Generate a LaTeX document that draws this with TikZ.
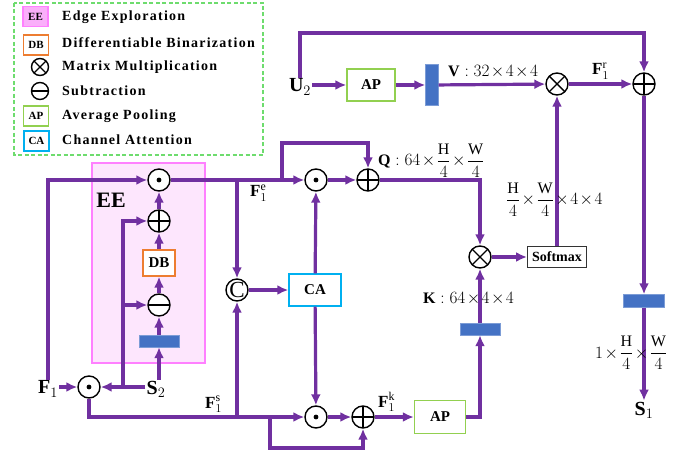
\documentclass[tikz,border=0pt]{standalone}
\usepackage{amsmath}
\usepackage{fontspec}
\setmainfont{Liberation Serif}
\newfontfamily\legfont[LetterSpace=9]{Liberation Serif}
\usetikzlibrary{arrows.meta, positioning, calc}
\definecolor{flowpurple}{RGB}{112,48,160}
\definecolor{barblue}{RGB}{68,114,196}
\definecolor{apgreen}{RGB}{146,208,80}
\definecolor{cablue}{RGB}{0,176,240}
\definecolor{dborange}{RGB}{237,125,49}
\definecolor{eefill}{RGB}{253,230,253}
\definecolor{eeline}{RGB}{255,128,255}
\definecolor{legfill}{RGB}{250,175,250}
\definecolor{leggreen}{RGB}{110,220,110}
\newcommand{\fsz}[1]{\fontsize{#1}{#1}\selectfont}

\begin{document}
\begin{tikzpicture}[x=1pt, y=-1pt,
    flow/.style={draw=flowpurple, line width=3.2pt, -{Latex[length=11pt,width=10pt]}},
    opnode/.style={circle, draw=black, line width=1.4pt, fill=white,
                   minimum size=22pt, inner sep=0pt},
    plusop/.style={opnode, path picture={
        \draw[black, line width=1.4pt] (path picture bounding box.north) -- (path picture bounding box.south)
             (path picture bounding box.west) -- (path picture bounding box.east);}},
    multop/.style={opnode, path picture={
        \draw[black, line width=1.4pt] (path picture bounding box.north west) -- (path picture bounding box.south east)
             (path picture bounding box.north east) -- (path picture bounding box.south west);}},
    minusop/.style={opnode, path picture={
        \draw[black, line width=1.4pt] (path picture bounding box.west) -- (path picture bounding box.east);}},
    dotop/.style={opnode, path picture={\fill[black] (path picture bounding box.center) circle (2.4pt);}},
    catop/.style={opnode, font=\fsz{23}},
    opbox/.style={rectangle, line width=1.4pt, fill=white, inner sep=0pt,
                  font=\bfseries\fsz{15}},
    legbox/.style={rectangle, line width=1.2pt, fill=white, inner sep=0pt,
                   minimum width=25pt, minimum height=20pt, font=\bfseries\fsz{11}},
    legtext/.style={anchor=west, inner sep=0pt, font=\legfont\bfseries\fsz{14}},
    featbar/.style={rectangle, fill=barblue, draw=barblue!70, line width=0.4pt, inner sep=0pt},
    varlabel/.style={inner sep=1pt, font=\fsz{20}},
    flabel/.style={anchor=base west, inner sep=0pt, font=\fsz{17}},
    dimlabel/.style={anchor=base west, inner sep=0pt, font=\fsz{16},
                     execute at begin node={\medmuskip=1.5mu\relax}},
  ]
  \useasboundingbox (0,0) rectangle (690,454);

  % legend
  \draw[leggreen, line width=1.2pt, dash pattern=on 4pt off 2.5pt] (14,3) rectangle (263,155);
  \node[legbox, draw=eeline, fill=legfill] (lee) at (35.5,16.5) {EE};
  \node[legbox, draw=dborange] (ldb) at (36,45) {DB};
  \node[multop, minimum size=17pt] (lmul) at (40,67) {};
  \node[minusop, minimum size=17pt] (lsub) at (40,91) {};
  \node[legbox, draw=apgreen] (lap) at (36,116) {AP};
  \node[legbox, draw=cablue] (lca) at (36.5,141) {CA};
  \node[legtext] at (62,17) {Edge Exploration};
  \node[legtext] at (62,43) {Differentiable Binarization};
  \node[legtext] at (62,67) {Matrix Multiplication};
  \node[legtext] at (62,91) {Subtraction};
  \node[legtext] at (62,116) {Average Pooling};
  \node[legtext] at (62,140) {Channel Attention};

  % edge exploration block
  \node[rectangle, fill=eefill, draw=eeline, line width=1.2pt,
        minimum width=113pt, minimum height=200pt] (ee) at (148.5,263) {};
  \node[font=\bfseries\fsz{22}] (eetitle) at (111,200) {EE};
  \node[dotop] (dot1) at (159,180) {};
  \node[plusop] (add1) at (159,221) {};
  \node[opbox, draw=dborange, minimum width=32pt, minimum height=26pt] (db) at (159,263) {DB};
  \node[minusop] (sub1) at (159,305) {};
  \node[featbar, minimum width=40pt, minimum height=12pt] (bar1) at (159,341) {};

  % inputs
  \node[varlabel] (f1) at (48,389) {$\mathbf{F}_1$};
  \node[varlabel] (s2) at (156,389) {$\mathbf{S}_2$};
  \node[dotop] (dot0) at (89,387) {};
  \node[varlabel] (u2) at (300,87) {$\mathbf{U}_2$};

  % middle
  \node[catop] (cat) at (237,290) {C};
  \node[opbox, draw=cablue, minimum width=52pt, minimum height=32pt] (ca) at (315,290) {CA};
  \node[dotop] (dot2) at (316,180) {};
  \node[plusop] (add2) at (368,180) {};
  \node[dotop] (dot3) at (316,417) {};
  \node[plusop] (add3) at (363,417) {};
  \node[opbox, draw=apgreen, minimum width=51pt, minimum height=33pt] (ap2) at (440,417) {AP};
  \node[featbar, minimum width=40pt, minimum height=12pt] (bar2) at (480,329) {};
  \node[multop] (mul1) at (480,257) {};
  \node[opbox, draw=black!80, line width=1pt, minimum width=59pt, minimum height=21pt,
        font=\bfseries\fsz{14}] (soft) at (557,257) {Softmax};

  % top row
  \node[opbox, draw=apgreen, minimum width=48pt, minimum height=32pt] (ap1) at (371,85) {AP};
  \node[featbar, minimum width=13pt, minimum height=41pt] (bar3) at (432,85) {};
  \node[multop] (mul2) at (557,84) {};
  \node[plusop] (add4) at (644,84) {};
  \node[featbar, minimum width=41pt, minimum height=13pt] (bar4) at (644,301) {};
  \node[varlabel] (s1) at (644,410) {$\mathbf{S}_1$};

  % branch points
  \coordinate (b1) at (123,387);
  \coordinate (b2) at (237,180);
  \coordinate (b3) at (282,180);
  \coordinate (b4) at (237,417);
  \coordinate (b5) at (270,417);
  \coordinate (tl) at (0,33);

  % connectors
  \draw[flow] (f1.east |- dot0) -- (dot0);
  \draw[flow] (s2.west |- dot0) -- (dot0);
  \draw[flow] (bar1 |- s2.north) -- (bar1);
  \draw[flow] (b1) |- (sub1);
  \draw[flow] (b1) |- (add1);
  \draw[flow] (bar1) -- (sub1);
  \draw[flow] (sub1) -- (db);
  \draw[flow] (db) -- (add1);
  \draw[flow] (add1) -- (dot1);
  \draw[flow] (f1.north) |- (dot1);
  \draw[flow] (dot1) -- (dot2);
  \draw[flow] (b2) -- (cat);
  \draw[flow] (b3) -- ++(0,-37) -| (add2);
  \draw[flow] (dot2) -- (add2);
  \draw[flow] (add2) -| (mul1);
  \draw[flow] (cat) -- (ca);
  \draw[flow] (ca) -- (dot2);
  \draw[flow] (ca) -- (dot3);
  \draw[flow] (dot0) |- (dot3);
  \draw[flow] (b4) -- (cat);
  \draw[flow] (b5) -- ++(0,31) -| (add3);
  \draw[flow] (dot3) -- (add3);
  \draw[flow] (add3) -- (ap2);
  \draw[flow] (ap2) -| (bar2);
  \draw[flow] (bar2) -- (mul1);
  \draw[flow] (mul1) -- (soft);
  \draw[flow] (soft) -- (mul2);
  \draw[flow] (u2.east |- ap1) -- (ap1);
  \draw[flow] (ap1) -- (bar3);
  \draw[flow] (bar3) -- (mul2);
  \draw[flow] (mul2) -- (add4);
  \draw[flow] (u2.north) -- (u2.north |- tl) -| (add4);
  \draw[flow] (add4) -- (bar4);
  \draw[flow] (bar4) -- (bar4 |- s1.north);

  % labels
  \node[flabel] (fe) at (250,197) {$\mathbf{F}_{1}^{\mathrm{e}}$};
  \node[flabel] (fs) at (205,408) {$\mathbf{F}_{1}^{\mathrm{s}}$};
  \node[flabel] (fk) at (378,407) {$\mathbf{F}_{1}^{\mathrm{k}}$};
  \node[flabel] (fr) at (592,75) {$\mathbf{F}_{1}^{\mathrm{r}}$};
  \node[dimlabel] (vdim) at (448,77) {$\mathbf{V}:32\times4\times4$};
  \node[dimlabel] (qdim) at (378,166) {$\mathbf{Q}:64\times\dfrac{\mathrm{H}}{4}\times\dfrac{\mathrm{W}}{4}$};
  \node[dimlabel] (kdim) at (423,303) {$\mathbf{K}:64\times4\times4$};
  \node[dimlabel] (adim) at (506,205) {$\dfrac{\mathrm{H}}{4}\times\dfrac{\mathrm{W}}{4}\times4\times4$};
  \node[dimlabel] (sdim) at (595,358) {$1\times\dfrac{\mathrm{H}}{4}\times\dfrac{\mathrm{W}}{4}$};
\end{tikzpicture}
\end{document}
